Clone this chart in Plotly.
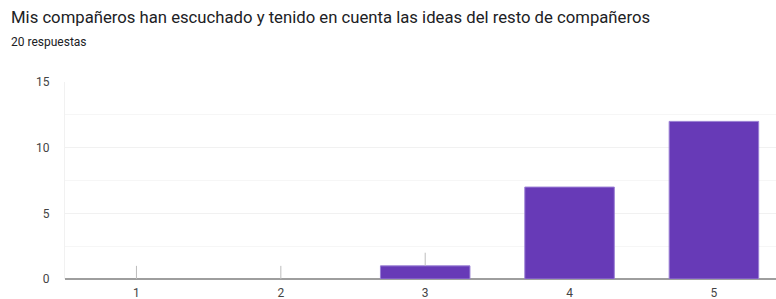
import plotly.graph_objects as go

categories = ["1", "2", "3", "4", "5"]
values = [0, 0, 1, 7, 12]
marker_lines = [1, 1, 1, 0, 0]
y_ticks = [0, 5, 10, 15]

title_text = "Mis compañeros han escuchado y tenido en cuenta las ideas del resto de compañeros"
subtitle_text = "20 respuestas"

x_pos = [int(c) for c in categories]
outline_widths = [1 if v > 0 else 0 for v in values]

fig = go.Figure()
fig.add_trace(go.Bar(
    x=x_pos, y=values, width=0.62,
    marker=dict(color="#673ab7", line=dict(color="#9a7fd4", width=outline_widths)),
    error_y=dict(type="data", symmetric=False, array=marker_lines,
                 arrayminus=[0] * len(values), width=0, thickness=1, color="#bdbdbd"),
    hoverinfo="skip",
))

fig.update_layout(
    width=776, height=299,
    margin=dict(l=65, r=0, t=82, b=20),
    paper_bgcolor="white", plot_bgcolor="white",
    font=dict(family="Roboto", color="#444444", size=12),
    showlegend=False,
)
fig.update_xaxes(
    range=[0.505, 5.43], tickmode="array", tickvals=x_pos, ticktext=categories,
    showgrid=False, ticks="", showline=False, zeroline=False,
    ticklabelstandoff=5,
    tickfont=dict(size=12, color="#444444"), fixedrange=True,
)
fig.update_yaxes(
    range=[0, 15], tickmode="array", tickvals=y_ticks,
    showgrid=True, gridcolor="#f1f1f1", gridwidth=1,
    minor=dict(dtick=2.5, tick0=0, showgrid=True, gridcolor="#f6f6f6", gridwidth=1, ticks=""),
    zeroline=True, zerolinecolor="#9e9e9e", zerolinewidth=1.5,
    showline=True, linecolor="#f1f1f1", linewidth=1,
    ticks="", ticklabelstandoff=12,
    tickfont=dict(size=12, color="#444444"), fixedrange=True,
)

fig.add_annotation(text=title_text, xref="paper", yref="paper", x=0, y=1,
                   xshift=-56, yshift=65, xanchor="left", yanchor="middle",
                   showarrow=False, font=dict(family="Roboto", size=16.7, color="#202124"))
fig.add_annotation(text=subtitle_text, xref="paper", yref="paper", x=0, y=1,
                   xshift=-56, yshift=40, xanchor="left", yanchor="middle",
                   showarrow=False, font=dict(family="Roboto", size=12, color="#202124"))

fig.write_html("out.html", config={"displayModeBar": False},
               post_script="document.body.style.margin='0';")
